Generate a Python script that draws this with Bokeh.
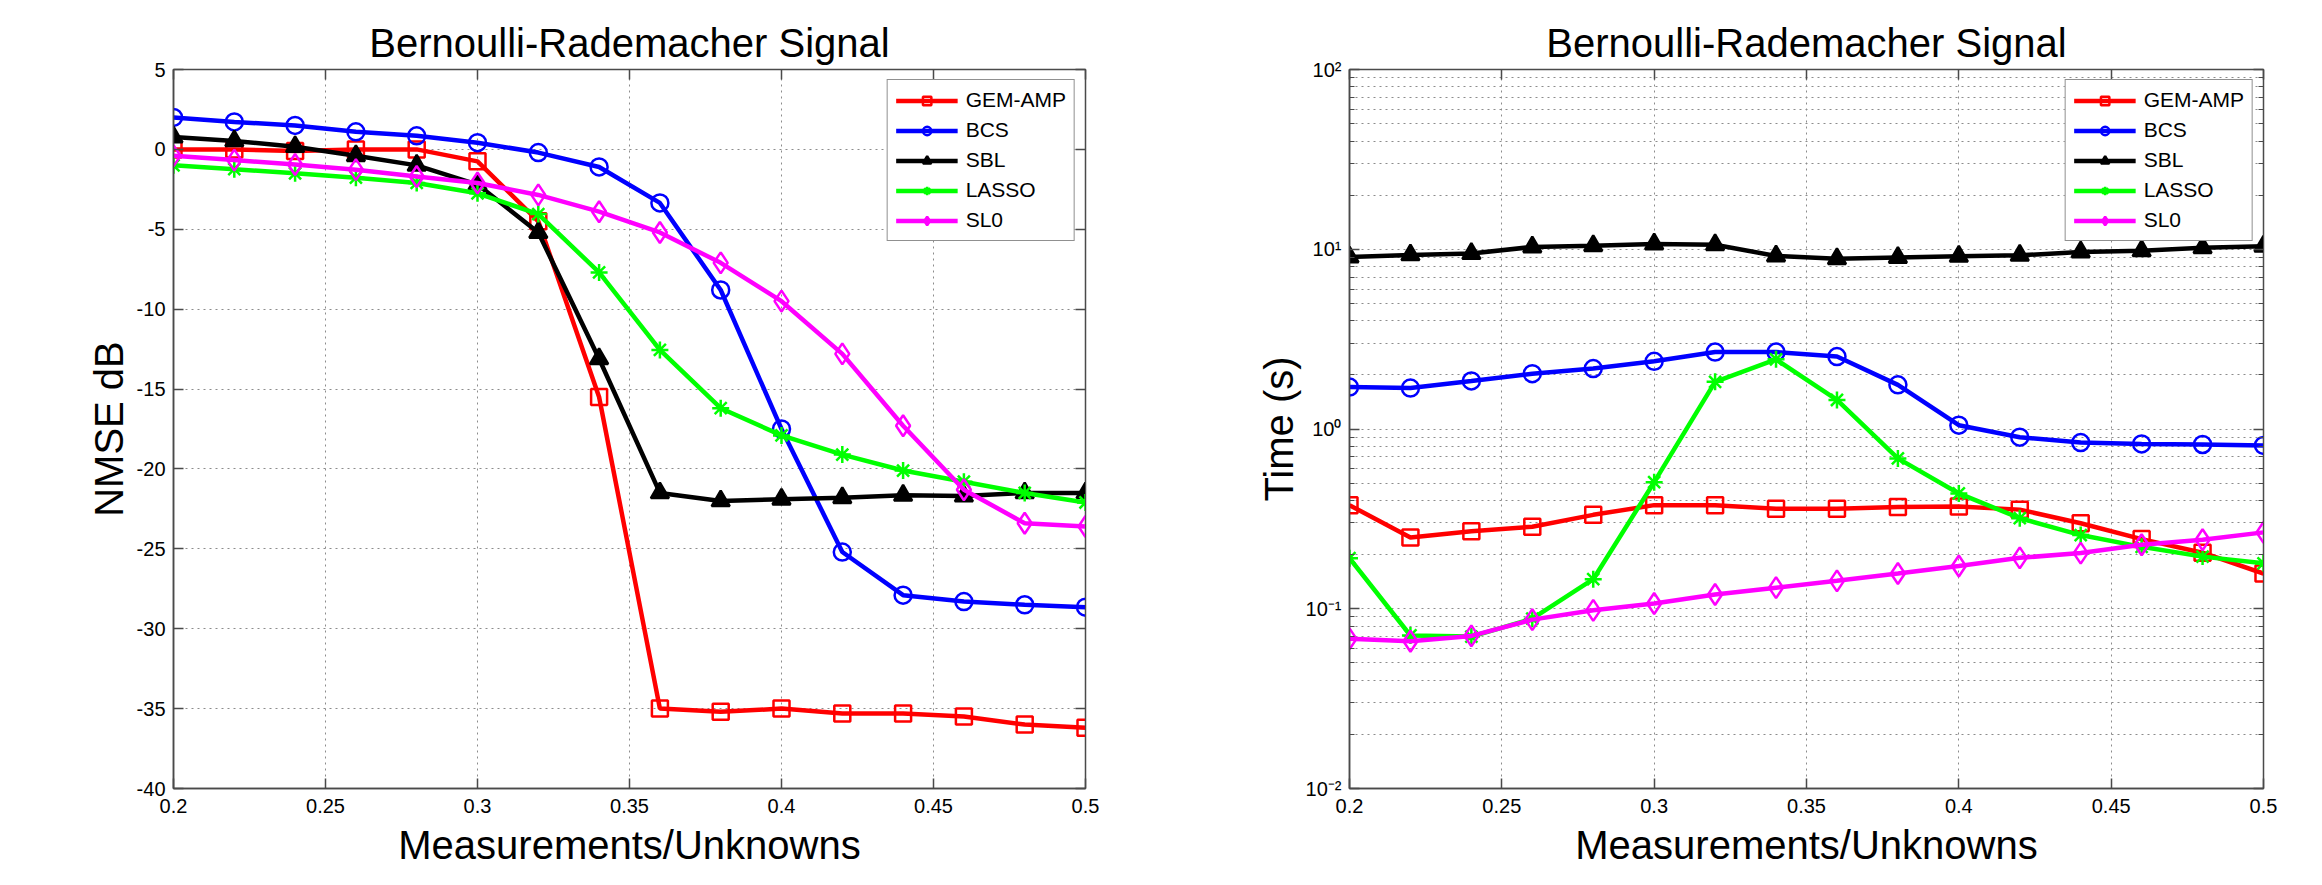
from bokeh.plotting import figure
from bokeh.layouts import row
from bokeh.models import (LinearAxis, LogAxis, FixedTicker, Legend, LegendItem, Range1d,
                          BasicTickFormatter)
from bokeh.embed import file_html
from bokeh.resources import INLINE

# ---------------- data ----------------
ratio = [0.20, 0.22, 0.24, 0.26, 0.28, 0.30, 0.32, 0.34,
         0.36, 0.38, 0.40, 0.42, 0.44, 0.46, 0.48, 0.50]

series_names = ["GEM-AMP", "BCS", "SBL", "LASSO", "SL0"]

nmse_gem_amp = [0.0, 0.0, -0.1, 0.0, 0.0, -0.75, -4.5, -15.5,
                -35.0, -35.2, -35.0, -35.3, -35.3, -35.5, -36.0, -36.2]
nmse_bcs = [2.0, 1.72, 1.5, 1.1, 0.85, 0.42, -0.2, -1.1,
            -3.35, -8.8, -17.5, -25.2, -27.9, -28.3, -28.5, -28.65]
nmse_sbl = [0.77, 0.53, 0.17, -0.4, -1.0, -2.2, -5.2, -13.1,
            -21.5, -22.0, -21.9, -21.8, -21.65, -21.7, -21.5, -21.5]
nmse_lasso = [-1.0, -1.24, -1.5, -1.77, -2.1, -2.75, -4.05, -7.7,
              -12.55, -16.2, -17.9, -19.1, -20.1, -20.8, -21.5, -22.1]
nmse_sl0 = [-0.4, -0.67, -0.95, -1.27, -1.7, -2.1, -2.85, -3.9,
            -5.2, -7.1, -9.5, -12.8, -17.3, -21.3, -23.4, -23.6]

time_gem_amp = [0.377, 0.249, 0.27, 0.286, 0.333, 0.377, 0.377, 0.36,
                0.36, 0.368, 0.371, 0.356, 0.299, 0.244, 0.205, 0.157]
time_bcs = [1.71, 1.69, 1.85, 2.03, 2.17, 2.38, 2.68, 2.68,
            2.53, 1.76, 1.05, 0.90, 0.84, 0.826, 0.82, 0.81]
time_sbl = [9.06, 9.3, 9.46, 10.3, 10.46, 10.7, 10.6, 9.18,
            8.86, 9.0, 9.13, 9.25, 9.66, 9.8, 10.2, 10.4]
time_lasso = [0.191, 0.071, 0.070, 0.088, 0.146, 0.506, 1.83, 2.44,
              1.45, 0.686, 0.438, 0.319, 0.257, 0.221, 0.195, 0.179]
time_sl0 = [0.068, 0.066, 0.0706, 0.087, 0.098, 0.107, 0.12, 0.131,
            0.143, 0.157, 0.173, 0.192, 0.204, 0.227, 0.242, 0.266]

x_ticks = [0.2, 0.25, 0.3, 0.35, 0.4, 0.45, 0.5]
x_tick_labels = ["0.2", "0.25", "0.3", "0.35", "0.4", "0.45", "0.5"]
nmse_ticks = [5, 0, -5, -10, -15, -20, -25, -30, -35, -40]
nmse_tick_labels = ["5", "0", "-5", "-10", "-15", "-20", "-25", "-30", "-35", "-40"]
time_ticks = [0.01, 0.1, 1, 10, 100]
time_tick_labels = ["10\u207b\u00b2", "10\u207b\u00b9", "10\u2070", "10\u00b9", "10\u00b2"]
time_minor_mantissas = [2, 3, 4, 5, 6, 7, 8, 9]

title_text = "Bernoulli-Rademacher Signal"
x_label = "Measurements/Unknowns"
left_y_label = "NMSE dB"
right_y_label = "Time (s)"

# ---------------- style ----------------
FONT = "Liberation Sans"
colors = ["#ff0000", "#0000ff", "#000000", "#00ff00", "#ff00ff"]
markers = ["square", "circle", "triangle", "asterisk", "diamond"]
msizes = [16, 17, 18, 17, 21]
fills = [None, None, "#000000", None, None]
AX = "#4a4a4a"
GRID = "#8c8c8c"


def style(p, ylab_standoff):
    p.title.text = title_text
    p.title.text_font = FONT
    p.title.text_font_size = "40px"
    p.title.text_font_style = "normal"
    p.title.text_color = "#000000"
    p.title.align = "center"
    p.title.standoff = 10
    p.outline_line_color = AX
    p.outline_line_width = 1.5
    for ax in (p.xaxis, p.yaxis):
        ax.axis_label_text_font = FONT
        ax.axis_label_text_font_size = "40px"
        ax.axis_label_text_font_style = "normal"
        ax.axis_label_text_color = "#000000"
        ax.major_label_text_font = FONT
        ax.major_label_text_font_size = "20px"
        ax.major_label_text_color = "#000000"
        ax.axis_line_color = AX
        ax.axis_line_width = 1.5
        ax.major_tick_in = 10
        ax.major_tick_out = 0
        ax.major_tick_line_color = AX
        ax.major_tick_line_width = 1.5
    p.xaxis.major_label_standoff = 10
    p.yaxis.major_label_standoff = 8
    p.xaxis.axis_label_standoff = 7
    p.yaxis.axis_label_standoff = ylab_standoff
    p.xaxis.minor_tick_line_color = None
    p.xaxis.axis_label = x_label
    p.xgrid.grid_line_color = GRID
    p.xgrid.grid_line_dash = "2 4"
    p.xgrid.grid_line_width = 1
    p.ygrid.grid_line_color = GRID
    p.ygrid.grid_line_dash = "2 4"
    p.ygrid.grid_line_width = 1


def add_series(p, ys):
    items = []
    for name, y, c, m, s, f in zip(series_names, ys, colors, markers, msizes, fills):
        l = p.line(ratio, y, line_color=c, line_width=4.5)
        sc = p.scatter(ratio, y, marker=m, size=s, line_color=c, line_width=2.5,
                       fill_color=f if f else c, fill_alpha=1.0 if f else 0.0)
        items.append(LegendItem(label=name, renderers=[l, sc]))
    leg = Legend(items=items, location="top_right", margin=10, padding=8,
                 spacing=6, label_height=21, glyph_height=21, glyph_width=62,
                 label_standoff=8, label_text_font=FONT, label_text_font_size="21px",
                 label_text_color="#000000",
                 border_line_color="#222222", border_line_width=1.2,
                 background_fill_color="white", background_fill_alpha=1.0)
    p.add_layout(leg)


def box_axis(kind, ticker, minor=False):
    kw = dict(ticker=ticker, formatter=BasicTickFormatter(),
              major_label_text_font_size="1px", major_label_text_color=None,
              major_tick_in=10, major_tick_out=0, major_label_standoff=0,
              axis_line_color=AX, major_tick_line_color=AX, major_tick_line_width=1.5)
    if minor:
        kw.update(minor_tick_in=5, minor_tick_out=0, minor_tick_line_color=AX)
    else:
        kw.update(minor_tick_line_color=None)
    return kind(**kw)


# ---------------- left: NMSE ----------------
p1 = figure(width=1150, height=869, output_backend="svg", toolbar_location=None,
            x_range=Range1d(0.2, 0.5), y_range=Range1d(-40, 5),
            min_border_left=173, min_border_right=65, min_border_top=69,
            min_border_bottom=80)
p1.xaxis.ticker = FixedTicker(ticks=x_ticks)
p1.yaxis.ticker = FixedTicker(ticks=nmse_ticks)
p1.xaxis.major_label_overrides = dict(zip(x_ticks, x_tick_labels))
p1.yaxis.major_label_overrides = dict(zip(nmse_ticks, nmse_tick_labels))
style(p1, 3)
p1.yaxis.minor_tick_line_color = None
p1.yaxis.axis_label = left_y_label
add_series(p1, [nmse_gem_amp, nmse_bcs, nmse_sbl, nmse_lasso, nmse_sl0])
p1.add_layout(box_axis(LinearAxis, FixedTicker(ticks=x_ticks)), "above")
p1.add_layout(box_axis(LinearAxis, FixedTicker(ticks=nmse_ticks)), "right")

# ---------------- right: time ----------------
time_minor = [m * t for t in time_ticks[:-1] for m in time_minor_mantissas]
p2 = figure(width=1156, height=869, output_backend="svg", toolbar_location=None,
            x_range=Range1d(0.2, 0.5), y_range=Range1d(0.01, 100), y_axis_type="log",
            min_border_left=199, min_border_right=43, min_border_top=69,
            min_border_bottom=80)
p2.xaxis.ticker = FixedTicker(ticks=x_ticks)
p2.yaxis.ticker = FixedTicker(ticks=time_ticks, minor_ticks=time_minor)
p2.yaxis.formatter = BasicTickFormatter()
p2.xaxis.major_label_overrides = dict(zip(x_ticks, x_tick_labels))
p2.yaxis.major_label_overrides = dict(zip(time_ticks, time_tick_labels))
style(p2, 2)
p2.yaxis.minor_tick_in = 5
p2.yaxis.minor_tick_out = 0
p2.yaxis.minor_tick_line_color = AX
p2.yaxis.axis_label = right_y_label
p2.ygrid.minor_grid_line_color = GRID
p2.ygrid.minor_grid_line_dash = "2 4"
p2.ygrid.minor_grid_line_width = 1
add_series(p2, [time_gem_amp, time_bcs, time_sbl, time_lasso, time_sl0])
p2.add_layout(box_axis(LinearAxis, FixedTicker(ticks=x_ticks)), "above")
p2.add_layout(box_axis(LogAxis, FixedTicker(ticks=time_ticks, minor_ticks=time_minor),
                       minor=True), "right")

layout = row(p1, p2)
open("out.html", "w").write(file_html(layout, INLINE))
